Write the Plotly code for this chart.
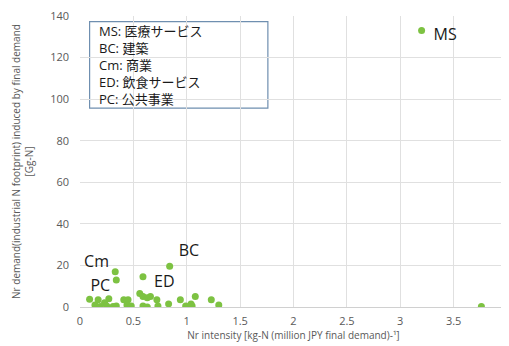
import plotly.graph_objects as go

intensity = [0.33, 0.34, 0.09, 0.17, 0.14, 0.19, 0.23, 0.27, 0.25, 0.31, 0.34,
             0.41, 0.45, 0.44, 0.48, 0.59, 0.56, 0.59, 0.63, 0.66, 0.72, 0.59,
             0.63, 0.73, 0.83, 0.84, 0.94, 0.99, 1.04, 1.05, 1.08, 1.23, 1.30,
             3.20, 3.76]
demand = [17, 13, 3.7, 3.5, 1, 0.3, 2, 4, 0.5, 0.3, 0.5,
          3.5, 3.5, 1, 0.5, 14.5, 6.5, 5, 4.5, 5, 3.5, 0.5,
          0, 0.5, 1.5, 19.6, 3.5, 0.5, 1.5, 0.5, 5, 3.5, 1,
          133, 0.3]

label_text = ["MS", "BC", "Cm", "ED", "PC"]
label_x = [3.42, 1.02, 0.155, 0.79, 0.19]
label_y = [130.4, 26.5, 21, 11.5, 9.6]

legend_lines = ["MS: 医療サービス", "BC: 建築", "Cm: 商業", "ED: 飲食サービス", "PC: 公共事業"]

x_ticks = [0, 0.5, 1, 1.5, 2, 2.5, 3, 3.5, 4]
y_ticks = [0, 20, 40, 60, 80, 100, 120, 140]

font_family = "Open Sans, Noto Sans CJK JP, sans-serif"

fig = go.Figure()
fig.add_trace(go.Scatter(
    x=intensity, y=demand, mode="markers",
    marker=dict(color="#7dc242", size=7),
    hoverinfo="x+y", showlegend=False,
))
fig.add_trace(go.Scatter(
    x=label_x, y=label_y, mode="text", text=label_text,
    textfont=dict(size=16, color="#1a1a1a", family=font_family),
    showlegend=False, hoverinfo="skip",
))

# legend box
fig.add_shape(type="rect", xref="x", yref="y", x0=0.09, x1=1.76, y0=95.7, y1=137.3,
              line=dict(color="#6f8fb0", width=1.2), fillcolor="white", layer="below")
fig.add_annotation(
    xref="x", yref="y", x=0.16, y=116.5, xanchor="left", yanchor="middle",
    text="<br>".join(legend_lines), showarrow=False, align="left",
    font=dict(size=13, color="#1a1a1a", family=font_family),
)

# the page body has an 8px margin, so margins are offset to compensate
fig.update_layout(
    width=509, height=346,
    margin=dict(l=72, r=10, t=8, b=47),
    paper_bgcolor="white", plot_bgcolor="white",
    font=dict(family=font_family, color="#595959"),
    xaxis=dict(
        range=[0, 4], tickvals=x_ticks, ticktext=[str(v) for v in x_ticks],
        showgrid=True, gridcolor="#e0e0e0", zeroline=False,
        showline=True, linecolor="#d0d0d0", linewidth=1,
        tickfont=dict(size=11, color="#595959"),
        title=dict(text="Nr intensity [kg-N (million JPY final demand)-¹]",
                   font=dict(size=10, color="#595959"), standoff=3),
        ticks="", ticklabelstandoff=4, ticklabeloverflow="allow",
        automargin=False, mirror=False,
    ),
    yaxis=dict(
        range=[0, 140.01], tickvals=y_ticks,
        showgrid=True, gridcolor="#e0e0e0", zeroline=False,
        showline=False,
        tickfont=dict(size=11, color="#595959"),
        title=dict(text="Nr demand(industrial N footprint) induced by final demand<br>[Gg-N]",
                   font=dict(size=10, color="#595959"), standoff=14),
        ticks="", ticklabelstandoff=10, ticklabeloverflow="allow",
        automargin=False,
    ),
)

fig.write_html("out.html")
